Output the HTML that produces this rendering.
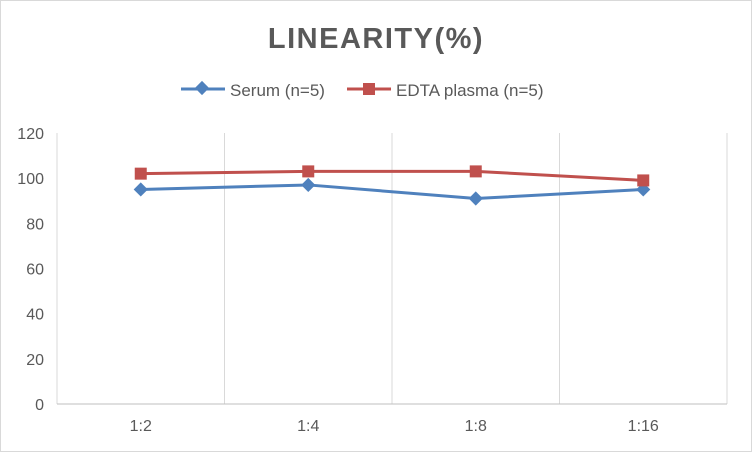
<!DOCTYPE html>
<html><head><meta charset="utf-8"><style>
body{margin:0;background:#fff}
svg{display:block;font-family:"Liberation Sans",sans-serif}
</style></head><body>
<svg id="chart" width="752" height="452" viewBox="0 0 752 452">
<rect x="0.5" y="0.5" width="751" height="451" fill="#fff" stroke="#d9d9d9"/>
<text x="376" y="48" text-anchor="middle" font-size="29" font-weight="bold" fill="#595959" letter-spacing="1.5">LINEARITY(%)</text>
<g>
<g>
<line x1="181" y1="89" x2="225" y2="89" stroke="#4f81bd" stroke-width="3"/>
<rect x="197" y="83" width="10" height="10" fill="#4f81bd" transform="rotate(45 202 88)"/>
<text x="230" y="96" font-size="17" fill="#595959">Serum (n=5)</text>
</g>
<g>
<line x1="347" y1="89" x2="391" y2="89" stroke="#c0504d" stroke-width="3"/>
<rect x="363" y="83" width="12" height="12" fill="#c0504d"/>
<text x="396" y="96" font-size="17" fill="#595959">EDTA plasma (n=5)</text>
</g>
</g>
<g id="grid"></g><g id="axes"></g><g id="series"></g>
</svg>
<script>
const categories=["1:2","1:4","1:8","1:16"];
const serum=[95,97,91,95];
const edta=[102,103,103,99];
const yTicks=[0,20,40,60,80,100,120];
const NS="http://www.w3.org/2000/svg";
const L=57,R=727,T=133,B=404,yMax=120;
const band=(R-L)/categories.length;
const x=i=>L+band*(i+0.5);
const y=v=>B-(v/yMax)*(B-T);
function mk(tag,attrs,parent){const e=document.createElementNS(NS,tag);for(const k in attrs)e.setAttribute(k,attrs[k]);parent.appendChild(e);return e;}
const grid=document.getElementById('grid'),axes=document.getElementById('axes'),ser=document.getElementById('series');
for(let i=1;i<categories.length;i++){
const g=mk('line',{x1:L+band*i,x2:L+band*i,y1:T,y2:B,stroke:'#d9d9d9','stroke-width':1},grid);


}
mk('line',{x1:R,x2:R,y1:T,y2:B,stroke:'#d9d9d9'},grid);
mk('line',{x1:L,x2:L,y1:T,y2:B,stroke:'#d9d9d9'},grid);
yTicks.forEach(t=>{
const lb=mk('text',{x:44,y:y(t)+6,'text-anchor':'end','font-size':16,fill:'#595959'},axes);
lb.textContent=t;


});
const ax=mk('line',{x1:L,x2:R,y1:B,y2:B,stroke:'#bfbfbf','stroke-width':1},axes);


categories.forEach((c,i)=>{
const lb=mk('text',{x:x(i),y:431,'text-anchor':'middle','font-size':16,fill:'#595959'},axes);
lb.textContent=c;


});
function line(vals,color,name){
const p=mk('polyline',{points:vals.map((v,i)=>x(i)+','+y(v)).join(' '),fill:'none',stroke:color,'stroke-width':3},ser);


}
line(serum,'#4f81bd','serum');
line(edta,'#c0504d','edta');
serum.forEach((v,i)=>{
const m=mk('rect',{x:x(i)-5,y:y(v)-5,width:10,height:10,fill:'#4f81bd',transform:`rotate(45 ${x(i)} ${y(v)})`},ser);


});
edta.forEach((v,i)=>{
const m=mk('rect',{x:x(i)-6,y:y(v)-6,width:12,height:12,fill:'#c0504d'},ser);


});
</script>
</body></html>
